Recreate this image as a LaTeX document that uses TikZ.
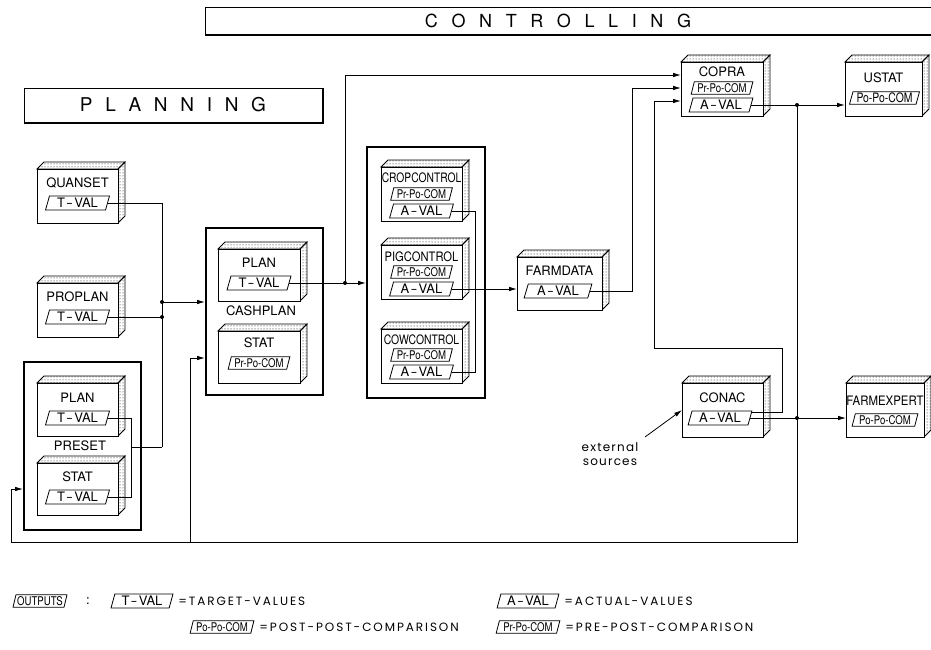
\documentclass[tikz,border=0pt]{standalone}
\usepackage{graphicx}
\usepackage{fontspec}
\setmainfont{TeX Gyre Heros}
\newfontfamily\condf[FakeStretch=0.8]{TeX Gyre Heros}
\newfontfamily\geof[LetterSpace=16]{Poppins}
\newfontfamily\extf[LetterSpace=10]{Poppins}
\usetikzlibrary{arrows.meta,patterns,shapes.geometric}

\newcommand\dsh{\kern1.2pt\scalebox{1.6}[1]{-}\kern1.2pt}
\newcommand\mycube[5]{%
  \draw[pattern=dots] (#2,#3) -- (#2+7,#3-7) -- (#4+7,#3-7) -- (#4,#3) -- cycle;
  \draw[pattern=dots] (#4,#3) -- (#4+7,#3-7) -- (#4+7,#5-7) -- (#4,#5) -- cycle;
  \node[draw, fill=white, anchor=north west, minimum width=#4-#2, minimum height=#5-#3, inner sep=0pt, outer sep=0pt] (#1) at (#2,#3) {};
}

\begin{document}
\begin{tikzpicture}[x=1pt,y=-1pt, line width=0.8pt,
  arr/.style={-{Latex[length=8pt,width=4.5pt]}},
  outerbox/.style={draw, line width=2.4pt, anchor=north west, inner sep=0pt},
  titlebox/.style={draw, line width=1pt, anchor=north west, inner sep=0pt},
  pg/.style={trapezium, trapezium left angle=73, trapezium right angle=107, trapezium stretches=true, draw, line width=0.8pt, inner sep=0pt, minimum width=#1, minimum height=14, font=\fontsize{13}{13}\selectfont},
  pgs/.style={pg=#1, minimum height=12.5, font=\condf\fontsize{12}{12}\selectfont},
  pgo/.style={pg=#1, minimum height=12.5, font=\condf\fontsize{13}{13}\selectfont},
  lbl/.style={inner sep=0pt, font=\fontsize{13}{13}\selectfont},
  dotj/.style={circle, fill, inner sep=0pt, minimum size=4pt},
  leg/.style={inner sep=0pt, anchor=west, font=\geof\fontsize{12}{12}\selectfont},
]
\useasboundingbox (0,0) rectangle (931,650);

% ---------- titles
\node[titlebox, minimum width=740, minimum height=27] (ctrlbox) at (205,7) {};
\draw[line width=2pt] (ctrlbox.south west) -- (ctrlbox.south east);
\node[inner sep=0pt, font=\fontsize{18}{18}\selectfont] (ctrlT) at (558,21) {\spaceskip=13.6pt C O N T R O L L I N G};

\node[titlebox, minimum width=298, minimum height=34] (planbox) at (24,88) {};
\draw[line width=2pt] (planbox.south west) -- (planbox.south east) -- (planbox.north east);
\node[inner sep=0pt, font=\fontsize{19}{19}\selectfont] (planT) at (173,105) {\spaceskip=12.7pt P L A N N I N G};

% ---------- planning boxes
\mycube{quan}{37}{169}{118}{223}
\node[lbl] (quanL) at (77.5,183) {QUANSET};
\node[pg=64] (quanT) at (77.5,203) {T\dsh VAL};

\mycube{prop}{37}{283}{118}{337}
\node[lbl] (propL) at (77.5,297) {PROPLAN};
\node[pg=64] (propT) at (77.5,317) {T\dsh VAL};

\node[outerbox, minimum width=117, minimum height=168] (preset) at (23,361) {};
\mycube{pplan}{37}{383}{118}{436}
\node[lbl] (pplanL) at (77.5,398) {PLAN};
\node[pg=64] (pplanT) at (77.5,418) {T\dsh VAL};
\node[lbl] (presetL) at (80,446) {PRESET};
\mycube{pstat}{37}{463}{118}{515}
\node[lbl] (pstatL) at (77.5,477) {STAT};
\node[pg=64] (pstatT) at (77.5,497) {T\dsh VAL};

\node[outerbox, minimum width=117, minimum height=167] (cash) at (205,227) {};
\mycube{cplan}{218}{249}{300}{301}
\node[lbl] (cplanL) at (259,263) {PLAN};
\node[pg=64] (cplanT) at (259,283) {T\dsh VAL};
\node[lbl] (cashL) at (261,311) {CASHPLAN};
\mycube{cstat}{218}{331}{300}{383}
\node[lbl] (cstatL) at (259,343) {STAT};
\node[pgs=62] (cstatP) at (259,363) {Pr-Po-COM};

% ---------- control boxes
\node[outerbox, minimum width=118, minimum height=251] (ctl) at (366,146) {};
\mycube{crop}{381}{167}{462}{221}
\node[lbl] (cropL) at (421.5,178) {\scalebox{0.79}[1]{CROPCONTROL}};
\node[pgs=62] (cropP) at (421.5,194) {Pr-Po-COM};
\node[pg=64] (cropA) at (421.5,211) {A\dsh VAL};

\mycube{pig}{381}{245}{462}{299}
\node[lbl] (pigL) at (421.5,257) {\scalebox{0.86}[1]{PIGCONTROL}};
\node[pgs=62] (pigP) at (421.5,272) {Pr-Po-COM};
\node[pg=64] (pigA) at (421.5,289) {A\dsh VAL};

\mycube{cow}{381}{329}{462}{383}
\node[lbl] (cowL) at (421.5,340) {\scalebox{0.8}[1]{COWCONTROL}};
\node[pgs=62] (cowP) at (421.5,355) {Pr-Po-COM};
\node[pg=64] (cowA) at (421.5,372) {A\dsh VAL};

\mycube{farm}{517}{257}{602}{310}
\node[lbl] (farmL) at (559.5,271) {FARMDATA};
\node[pg=68] (farmA) at (558,291) {A\dsh VAL};

\mycube{copra}{681}{62}{763}{116}
\node[lbl] (copraL) at (722,72) {COPRA};
\node[pgs=62] (copraP) at (722,88) {Pr-Po-COM};
\node[pg=64] (copraA) at (721,105) {A\dsh VAL};

\mycube{ustat}{845}{62}{922}{116}
\node[lbl] (ustatL) at (883.5,78) {USTAT};
\node[pgo=70] (ustatP) at (884.5,98) {Po-Po-COM};

\mycube{conac}{682}{383}{763}{437}
\node[lbl] (conacL) at (722.5,398) {CONAC};
\node[pg=64] (conacA) at (720,418) {A\dsh VAL};

\mycube{fexp}{846}{383}{924}{437}
\node[lbl] (fexpL) at (885,401) {\scalebox{0.88}[1]{FARMEXPERT}};
\node[pgs=66] (fexpP) at (885,420) {Po-Po-COM};

\node[inner sep=0pt, align=center, font=\extf\fontsize{12}{14}\selectfont] (ext) at (610,454) {external\\sources};

% ---------- connectors
\coordinate (J1) at (162,302);
\coordinate (J4) at (162,447);
\coordinate (J3) at (131,447);
\draw (quanT.east) -| (J1);
\draw (propT.east) -- (propT.east -| J1);
\draw (J1) -- (J4);
\draw (pplanT.east) -| (J3);
\draw (pstatT.east) -| (J3);
\draw (J3) -- (J4);
\draw[arr] (J1) -- (J1 -| cash.west);
\node[dotj] (d1) at (J1) {};
\node[dotj] (d2) at (propT.east -| J1) {};

% feedback loop
\coordinate (vx) at (797,0);
\coordinate (J5) at (copraA.east -| vx);
\coordinate (J6) at (conacA.east -| vx);
\coordinate (B1) at (797,542);
\coordinate (B2) at (11,542);
\coordinate (B3) at (190,542);
\coordinate (P1) at (11,489);
\coordinate (C2) at (190,358);
\draw (copraA.east) -- (J5);
\draw[arr] (J5) -- (J5 -| ustat.west);
\draw (conacA.east) -- (J6);
\draw[arr] (J6) -- (J6 -| fexp.west);
\draw[arr] (J5) -- (B1) -- (B2) -- (P1) -- (P1 -| preset.west);
\draw[arr] (B3) -- (C2) -- (C2 -| cash.west);
\node[dotj] (d5) at (J5) {};
\node[dotj] (d6) at (J6) {};

% cashplan output
\coordinate (vx2) at (345,0);
\coordinate (J7) at (cplanT.east -| vx2);
\coordinate (K1) at (345,75);
\draw (cplanT.east) -- (J7);
\draw[arr] (J7) -- (J7 -| ctl.west);
\draw[arr] (J7) -- (K1) -- (K1 -| copra.west);
\node[dotj] (d7) at (J7) {};

% control outputs
\coordinate (vx3) at (475,0);
\draw (cropA.east) -| (cowA.east -| vx3) -- (cowA.east);
\draw[arr] (pigA.east) -- (pigA.east -| farm.west);

% farmdata output
\coordinate (K2) at (632,88);
\draw[arr] (farmA.east) -| (K2) -- (K2 -| copra.west);

% conac up-line
\coordinate (K3) at (782,348);
\coordinate (K4) at (654,348);
\coordinate (K5) at (654,101);
\draw[arr] ([shift={(2,-6)}]conacA.east) -| (K3) -- (K4) -- (K5) -- (K5 -| copra.west);

% external sources
\coordinate (E1) at (645,437);
\draw[arr] (E1) -- (conac.west);

% ---------- legend
\node[pgs=54] (lgO) at (40,601) {OUTPUTS};
\node[inner sep=0pt, font=\fontsize{13}{13}\selectfont] (lgC) at (88,601) {:};
\node[pg=62] (lgT) at (142,601) {T\dsh VAL};
\node[leg] (lgTt) at (178,601) {=TARGET-VALUES};
\node[pg=62] (lgA) at (528,601) {A\dsh VAL};
\node[leg] (lgAt) at (564,601) {=ACTUAL-VALUES};
\node[pgs=64] (lgP) at (222,627) {Po-Po-COM};
\node[leg] (lgPt) at (259,627) {=POST-POST-COMPARISON};
\node[pgs=64] (lgR) at (528,627) {Pr-Po-COM};
\node[leg] (lgRt) at (565,627) {=PRE-POST-COMPARISON};
\end{tikzpicture}
\end{document}
